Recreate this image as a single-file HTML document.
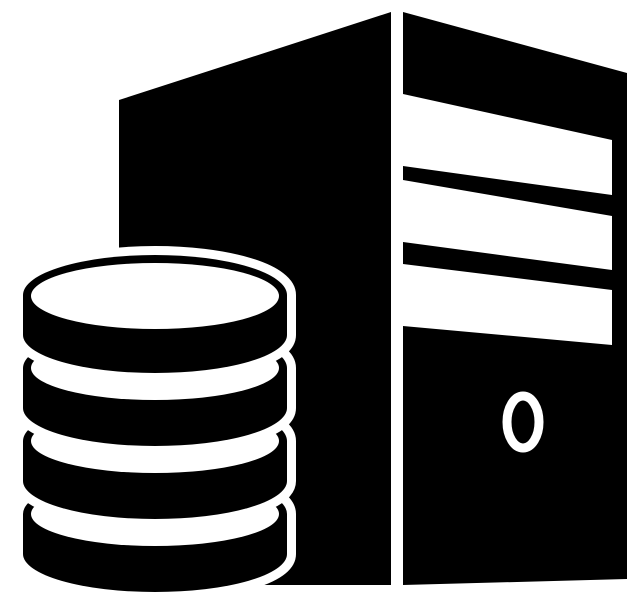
<!DOCTYPE html>
<html><head><style>html,body{margin:0;padding:0;background:#fff;}svg{display:block;}</style></head>
<body>
<svg width="643" height="609" viewBox="0 0 643 609" xmlns="http://www.w3.org/2000/svg">
<rect width="643" height="609" fill="#fff"/>
<polygon points="119,100 391,12 391,585 119,585" fill="#000"/>
<polygon points="403,12 627,73 627,579 403,585" fill="#000"/>
<polygon points="403,94 612,140 612,195 403,166" fill="#fff"/>
<polygon points="403,180 612,216 612,270 403,242" fill="#fff"/>
<polygon points="403,264 612,290 612,345 403,326" fill="#fff"/>
<ellipse cx="523" cy="422" rx="16" ry="26" fill="none" stroke="#fff" stroke-width="9"/>
<g stroke="#fff" stroke-width="18" paint-order="stroke" fill="#000">
  <path d="M23,514 A132,40 0 0 1 287,514 L287,554 A132,38 0 0 1 23,554 Z"/>
</g>
<ellipse cx="155" cy="514" rx="124" ry="32" fill="#fff"/>
<g stroke="#fff" stroke-width="18" paint-order="stroke" fill="#000">
  <path d="M23,441 A132,40 0 0 1 287,441 L287,481 A132,38 0 0 1 23,481 Z"/>
</g>
<ellipse cx="155" cy="441" rx="124" ry="32" fill="#fff"/>
<g stroke="#fff" stroke-width="18" paint-order="stroke" fill="#000">
  <path d="M23,368 A132,40 0 0 1 287,368 L287,408 A132,38 0 0 1 23,408 Z"/>
</g>
<ellipse cx="155" cy="368" rx="124" ry="32" fill="#fff"/>
<g stroke="#fff" stroke-width="18" paint-order="stroke" fill="#000">
  <path d="M23,295 A132,40 0 0 1 287,295 L287,335 A132,38 0 0 1 23,335 Z"/>
</g>
<ellipse cx="155" cy="296" rx="124" ry="33" fill="#fff"/>
</svg>
</body></html>
